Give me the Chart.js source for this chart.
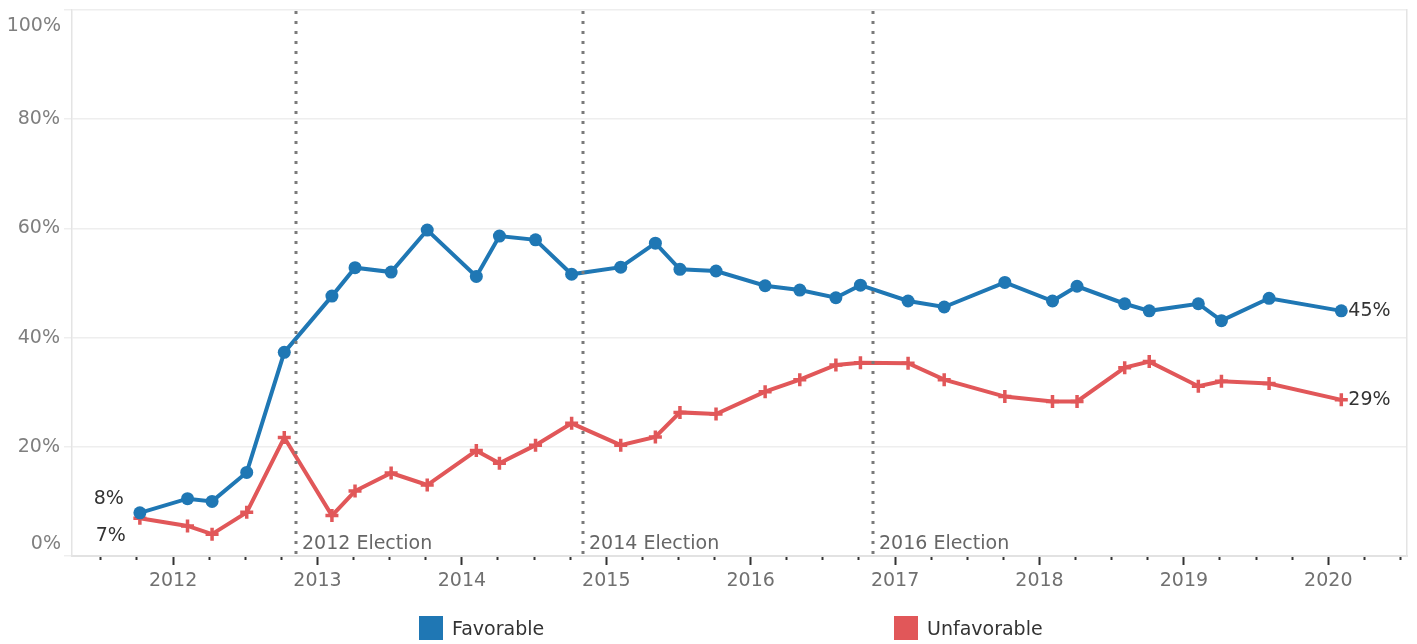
<!DOCTYPE html>
<html lang="en">
<head>
    <meta charset="UTF-8">
    <title>Favorable / Unfavorable</title>
    <script src="https://cdn.jsdelivr.net/npm/chart.js"></script>
    <style>
        body {
            margin: 0;
            padding: 0;
            background: #fff;
            font-family: "DejaVu Sans", sans-serif;
        }
        .wrap {
            position: relative;
            width: 1417px;
            height: 644px;
        }
        .legend-item {
            position: absolute;
            top: 616px;
            display: flex;
            align-items: center;
            font-size: 19px;
            color: #333;
            line-height: 24px;
        }
        .legend-item span.box {
            display: inline-block;
            width: 24px;
            height: 24px;
            margin-right: 9px;
        }
    </style>
</head>
<body>
    <div class="wrap">
        <canvas id="myChart" width="1417" height="644"></canvas>
        <div class="legend-item" style="left:419px"><span class="box" style="background:#1f77b4"></span>Favorable</div>
        <div class="legend-item" style="left:894px"><span class="box" style="background:#e15759"></span>Unfavorable</div>
    </div>

    <script>
        // survey dates as decimal years
        const dates = [2011.77, 2012.10, 2012.27, 2012.51, 2012.77, 2013.10, 2013.26, 2013.51, 2013.76,
            2014.10, 2014.26, 2014.51, 2014.76, 2015.10, 2015.34, 2015.51, 2015.76, 2016.10, 2016.34,
            2016.59, 2016.76, 2017.09, 2017.34, 2017.76, 2018.09, 2018.26, 2018.59, 2018.76, 2019.10,
            2019.26, 2019.59, 2020.09];
        const favorable = [7.9, 10.5, 10.0, 15.3, 37.3, 47.6, 52.8, 52.0, 59.7, 51.2, 58.6, 57.9, 51.6,
            52.9, 57.3, 52.5, 52.2, 49.5, 48.7, 47.3, 49.6, 46.7, 45.6, 50.1, 46.7, 49.4, 46.2, 44.9,
            46.2, 43.1, 47.2, 44.9];
        const unfavorable = [6.9, 5.5, 4.0, 8.0, 21.7, 7.4, 11.9, 15.2, 13.0, 19.3, 17.0, 20.3, 24.3,
            20.3, 21.8, 26.3, 26.0, 30.1, 32.3, 35.0, 35.4, 35.3, 32.3, 29.2, 28.3, 28.3, 34.5, 35.6,
            31.1, 32.0, 31.6, 28.6];
        const electionDates = [2012.85, 2014.84, 2016.85];
        const electionLabels = ['2012 Election', '2014 Election', '2016 Election'];
        const yTicks = [0, 20, 40, 60, 80, 100];

        const FONT = '"DejaVu Sans", sans-serif';

        const toPoints = vals => vals.map((v, i) => ({ x: dates[i], y: v }));
        const isYear = v => Math.abs(v - Math.round(v)) < 1e-6;

        // election lines, end labels, 0% / 100% labels
        const extras = {
            id: 'extras',
            afterDatasetsDraw(chart) {
                const { ctx, chartArea, scales } = chart;
                ctx.save();
                ctx.strokeStyle = '#7a7a7a';
                ctx.lineWidth = 3;
                ctx.setLineDash([3, 7]);
                electionDates.forEach((d, i) => {
                    const x = Math.round(scales.x.getPixelForValue(d));
                    ctx.beginPath();
                    ctx.moveTo(x, chartArea.top + 1);
                    ctx.lineTo(x, chartArea.bottom);
                    ctx.stroke();
                    ctx.font = '19px ' + FONT;
                    ctx.fillStyle = '#666';
                    ctx.textAlign = 'left';
                    ctx.textBaseline = 'alphabetic';
                    ctx.fillText(electionLabels[i], x + 6, chartArea.bottom - 7);
                });
                ctx.setLineDash([]);

                // first and last values
                ctx.font = '19px ' + FONT;
                ctx.fillStyle = '#333';
                const fav = chart.getDatasetMeta(0).data;
                const unf = chart.getDatasetMeta(1).data;
                const n = dates.length - 1;
                ctx.textAlign = 'right';
                ctx.textBaseline = 'alphabetic';
                ctx.fillText(Math.round(favorable[0]) + '%', fav[0].x - 16, fav[0].y - 9);
                ctx.fillText(Math.round(unfavorable[0]) + '%', unf[0].x - 14, unf[0].y + 23);
                ctx.textAlign = 'left';
                ctx.textBaseline = 'middle';
                ctx.fillText(Math.round(favorable[n]) + '%', fav[n].x + 7, fav[n].y);
                ctx.fillText(Math.round(unfavorable[n]) + '%', unf[n].x + 7, unf[n].y);

                // edge labels of the y axis sit inside the plot
                ctx.fillStyle = '#7f7f7f';
                ctx.textAlign = 'right';
                ctx.fillText('100%', chartArea.left - 11, scales.y.getPixelForValue(100) + 16);
                ctx.fillText('0%', chartArea.left - 11, scales.y.getPixelForValue(0) - 12);
                ctx.restore();
            }
        };

        const chart = new Chart(document.getElementById('myChart'), {
            type: 'line',
            data: {
                datasets: [
                    {
                        label: 'Favorable',
                        data: toPoints(favorable),
                        borderColor: '#1f77b4',
                        backgroundColor: '#1f77b4',
                        borderWidth: 4,
                        pointStyle: 'circle',
                        pointRadius: 6.5,
                        pointBorderWidth: 0,
                        tension: 0
                    },
                    {
                        label: 'Unfavorable',
                        data: toPoints(unfavorable),
                        borderColor: '#e15759',
                        backgroundColor: '#e15759',
                        borderWidth: 4,
                        pointStyle: 'cross',
                        pointRadius: 6.5,
                        pointBorderWidth: 3.5,
                        tension: 0
                    }
                ]
            },
            options: {
                responsive: false,
                animation: false,
                layout: { padding: { top: 8, left: 0, right: 0, bottom: 0 } },
                plugins: {
                    legend: { display: false },
                    tooltip: { enabled: false }
                },
                scales: {
                    x: {
                        type: 'linear',
                        min: 2011.3,
                        max: 2020.545,
                        afterFit: s => { s.height = 88; s.paddingLeft = 0; s.paddingRight = 0; },
                        border: { color: '#e2e2e2', width: 2 },
                        grid: {
                            drawOnChartArea: false,
                            tickLength: 9,
                            tickWidth: 2,
                            tickColor: '#333',
                            tickBorderDash: c => (c.tick && isYear(c.tick.value)) ? [] : [3, 40]
                        },
                        ticks: {
                            stepSize: 0.25,
                            includeBounds: false,
                            autoSkip: false,
                            maxRotation: 0,
                            padding: 5,
                            color: '#707070',
                            font: { family: FONT, size: 19 },
                            callback: v => isYear(v) ? String(Math.round(v)) : ''
                        }
                    },
                    y: {
                        min: 0,
                        max: 100,
                        afterFit: s => { s.width = 72; s.paddingTop = 0; s.paddingBottom = 0; },
                        afterBuildTicks: s => { s.ticks = yTicks.map(v => ({ value: v })); },
                        border: { color: '#e4e4e4', width: 1.5 },
                        grid: {
                            color: '#eeeeee',
                            lineWidth: 1.5,
                            tickLength: 8
                        },
                        ticks: {
                            padding: 4,
                            color: '#7f7f7f',
                            font: { family: FONT, size: 19 },
                            callback: v => (v === 0 || v === 100) ? '' : v + '%'
                        }
                    },
                    right: {
                        position: 'right',
                        min: 0,
                        max: 100,
                        afterFit: s => { s.width = 9; s.paddingTop = 0; s.paddingBottom = 0; },
                        border: { color: '#e4e4e4', width: 1.5 },
                        grid: { drawOnChartArea: false, drawTicks: false },
                        ticks: { display: false }
                    }
                }
            },
            plugins: [extras]
        });
    </script>
</body>
</html>
